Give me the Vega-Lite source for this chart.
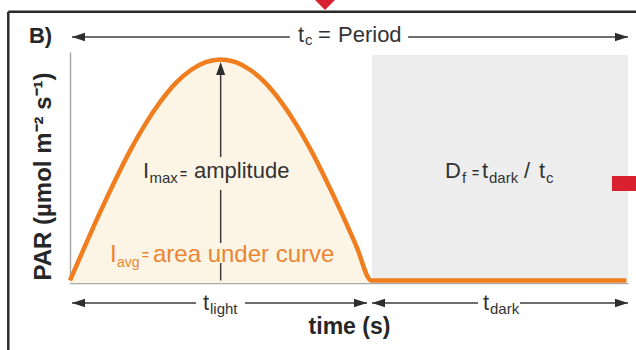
{
  "$schema": "https://vega.github.io/schema/vega-lite/v6.json",
  "width": 558,
  "height": 231,
  "autosize": {"type": "none"},
  "padding": {"left": 70, "top": 52, "right": 8, "bottom": 67},
  "background": "white",
  "config": {"view": {"stroke": null}, "font": "Liberation Sans"},
  "datasets": {
    "curve": [
      {"t": 0, "par": 1.1}, {"t": 0.27, "par": 16.1}, {"t": 0.54, "par": 30.7}, {"t": 0.81, "par": 44.5},
      {"t": 1.08, "par": 57.4}, {"t": 1.35, "par": 68.8}, {"t": 1.62, "par": 78.5}, {"t": 1.89, "par": 86.4},
      {"t": 2.16, "par": 92.1}, {"t": 2.43, "par": 95.6}, {"t": 2.7, "par": 96.8}, {"t": 2.97, "par": 95.6},
      {"t": 3.24, "par": 92.1}, {"t": 3.51, "par": 86.4}, {"t": 3.78, "par": 78.5}, {"t": 4.05, "par": 68.8},
      {"t": 4.32, "par": 57.4}, {"t": 4.59, "par": 44.5}, {"t": 4.86, "par": 30.7}, {"t": 5.13, "par": 16.1},
      {"t": 5.4, "par": 1.1}, {"t": 9.97, "par": 1.1}
    ],
    "darkBand": [{"t": 5.41, "t2": 10, "par": 0, "par2": 98.7}],
    "shafts": [
      {"t": 0.036, "t2": 3.94, "par": 106.5, "par2": 106.5},
      {"t": 6.06, "t2": 10, "par": 106.5, "par2": 106.5},
      {"t": 0.036, "t2": 2.26, "par": -8.66, "par2": -8.66},
      {"t": 3.136, "t2": 5.323, "par": -8.66, "par2": -8.66},
      {"t": 5.412, "t2": 7.312, "par": -8.66, "par2": -8.66},
      {"t": 8.065, "t2": 10, "par": -8.66, "par2": -8.66},
      {"t": 2.7, "t2": 2.7, "par": 1.1, "par2": 8.66},
      {"t": 2.7, "t2": 2.7, "par": 17.3, "par2": 40.3},
      {"t": 2.7, "t2": 2.7, "par": 54.5, "par2": 92}
    ],
    "heads": [
      {"t": 0.036, "par": 106.5, "dir": "left"},
      {"t": 10, "par": 106.5, "dir": "right"},
      {"t": 0.036, "par": -8.66, "dir": "left"},
      {"t": 5.323, "par": -8.66, "dir": "right"},
      {"t": 5.412, "par": -8.66, "dir": "left"},
      {"t": 10, "par": -8.66, "dir": "right"},
      {"t": 2.7, "par": 95.67, "dir": "up"}
    ],
    "border": [
      {"t": -1.106, "t2": -1.106, "par": 117.45, "par2": -30},
      {"t": -1.106, "t2": 10.3, "par": 117.45, "par2": 117.45}
    ],
    "redMarker": [{"t": 4.57, "par": 118.2}],
    "redTab": [{"t": 9.713, "t2": 10.3, "par": 39.83, "par2": 46.32}],
    "panelLabel": [{"t": -0.735, "par": 103.9, "label": "B)"}],
    "darkMain": [
      {"t": 1.308, "par": 45.45, "label": "I"},
      {"t": 2.222, "par": 45.45, "label": "amplitude"},
      {"t": 6.72, "par": 45.45, "label": "D"},
      {"t": 7.384, "par": 45.45, "label": "t"},
      {"t": 8.136, "par": 45.45, "label": "/"},
      {"t": 8.405, "par": 45.45, "label": "t"},
      {"t": 4.086, "par": 104.33, "label": "t"},
      {"t": 4.444, "par": 104.33, "label": "="},
      {"t": 4.803, "par": 104.33, "label": "Period"},
      {"t": 2.384, "par": -11.69, "label": "t"},
      {"t": 7.401, "par": -11.69, "label": "t"}
    ],
    "darkSub": [
      {"t": 1.425, "par": 43.29, "label": "max"},
      {"t": 7.025, "par": 43.29, "label": "f"},
      {"t": 7.509, "par": 43.29, "label": "dark"},
      {"t": 8.53, "par": 43.29, "label": "c"},
      {"t": 4.211, "par": 103.03, "label": "c"},
      {"t": 2.509, "par": -13.42, "label": "light"},
      {"t": 7.527, "par": -13.42, "label": "dark"}
    ],
    "darkEq": [
      {"t": 1.971, "par": 45.45, "label": "="},
      {"t": 7.204, "par": 45.89, "label": "="}
    ],
    "orangeMain": [
      {"t": 0.717, "par": 9.09, "label": "I"},
      {"t": 1.487, "par": 9.09, "label": "area under curve"}
    ],
    "orangeSub": [{"t": 0.842, "par": 6.93, "label": "avg"}],
    "orangeEq": [{"t": 1.29, "par": 10.39, "label": "="}]
  },
  "encoding": {
    "x": {
      "field": "t", "type": "quantitative",
      "scale": {"domain": [0, 10], "nice": false, "zero": false},
      "axis": {
        "title": "time (s)", "domain": true, "domainColor": "#AAAAAA", "domainWidth": 1.5,
        "ticks": false, "labels": false, "grid": false,
        "titleFont": "Liberation Sans", "titleFontSize": 23, "titleFontWeight": "bold",
        "titleColor": "#262626", "titlePadding": 32
      }
    },
    "y": {
      "field": "par", "type": "quantitative",
      "scale": {"domain": [0, 100], "nice": false, "zero": false},
      "axis": {
        "title": "PAR (µmol m⁻² s⁻¹)", "domain": true, "domainColor": "#AAAAAA", "domainWidth": 1.5,
        "ticks": false, "labels": false, "grid": false,
        "titleFont": "Liberation Sans", "titleFontSize": 24, "titleFontWeight": "bold",
        "titleColor": "#262626", "titlePadding": 15, "titleY": 124
      }
    }
  },
  "layer": [
    {
      "data": {"name": "darkBand"},
      "mark": {"type": "rect", "color": "#EDEDED", "clip": false},
      "encoding": {"x2": {"field": "t2"}, "y2": {"field": "par2"}}
    },
    {
      "data": {"name": "curve"},
      "transform": [{"filter": "datum.t <= 5.4"}],
      "mark": {"type": "area", "color": "#FCF5E6", "interpolate": "monotone"},
      "encoding": {"y2": {"datum": 0}}
    },
    {
      "data": {"name": "shafts"},
      "mark": {"type": "rule", "color": "#3C3C3C", "strokeWidth": 1.5, "clip": false},
      "encoding": {"x2": {"field": "t2"}, "y2": {"field": "par2"}}
    },
    {
      "data": {"name": "heads"},
      "mark": {"type": "point", "filled": true, "opacity": 1, "size": 676, "color": "#2E2E2E", "clip": false},
      "encoding": {
        "shape": {
          "field": "dir", "type": "nominal", "legend": null,
          "scale": {
            "domain": ["left", "right", "up"],
            "range": ["M0,0L1,-0.32L1,0.32Z", "M0,0L-1,-0.32L-1,0.32Z", "M0,0L-0.35,1L0.35,1Z"]
          }
        }
      }
    },
    {
      "data": {"name": "curve"},
      "mark": {"type": "line", "color": "#F07D1E", "strokeWidth": 4.5, "interpolate": "monotone", "strokeJoin": "miter"},
      "encoding": {}
    },
    {
      "data": {"name": "border"},
      "mark": {"type": "rule", "color": "#2A2A2A", "strokeWidth": 2.5, "clip": false},
      "encoding": {"x2": {"field": "t2"}, "y2": {"field": "par2"}}
    },
    {
      "data": {"name": "redMarker"},
      "mark": {"type": "point", "filled": true, "opacity": 1, "size": 400, "color": "#D8202F", "shape": "M0,0L-1,-1L1,-1Z", "clip": false},
      "encoding": {}
    },
    {
      "data": {"name": "redTab"},
      "mark": {"type": "rect", "color": "#D8202F", "clip": false},
      "encoding": {"x2": {"field": "t2"}, "y2": {"field": "par2"}}
    },
    {
      "data": {"name": "panelLabel"},
      "mark": {"type": "text", "align": "left", "baseline": "alphabetic", "fontSize": 22, "fontWeight": "bold", "color": "#262626", "clip": false},
      "encoding": {"text": {"field": "label"}}
    },
    {
      "data": {"name": "darkMain"},
      "mark": {"type": "text", "align": "left", "baseline": "alphabetic", "fontSize": 22, "color": "#333333", "clip": false},
      "encoding": {"text": {"field": "label"}}
    },
    {
      "data": {"name": "darkSub"},
      "mark": {"type": "text", "align": "left", "baseline": "alphabetic", "fontSize": 15, "color": "#333333", "clip": false},
      "encoding": {"text": {"field": "label"}}
    },
    {
      "data": {"name": "darkEq"},
      "mark": {"type": "text", "align": "left", "baseline": "alphabetic", "fontSize": 12, "fontWeight": "bold", "color": "#333333", "clip": false},
      "encoding": {"text": {"field": "label"}}
    },
    {
      "data": {"name": "orangeMain"},
      "mark": {"type": "text", "align": "left", "baseline": "alphabetic", "fontSize": 24, "color": "#EC8533", "clip": false},
      "encoding": {"text": {"field": "label"}}
    },
    {
      "data": {"name": "orangeSub"},
      "mark": {"type": "text", "align": "left", "baseline": "alphabetic", "fontSize": 14, "color": "#EC8533", "clip": false},
      "encoding": {"text": {"field": "label"}}
    },
    {
      "data": {"name": "orangeEq"},
      "mark": {"type": "text", "align": "left", "baseline": "alphabetic", "fontSize": 12, "fontWeight": "bold", "color": "#EC8533", "clip": false},
      "encoding": {"text": {"field": "label"}}
    }
  ]
}
